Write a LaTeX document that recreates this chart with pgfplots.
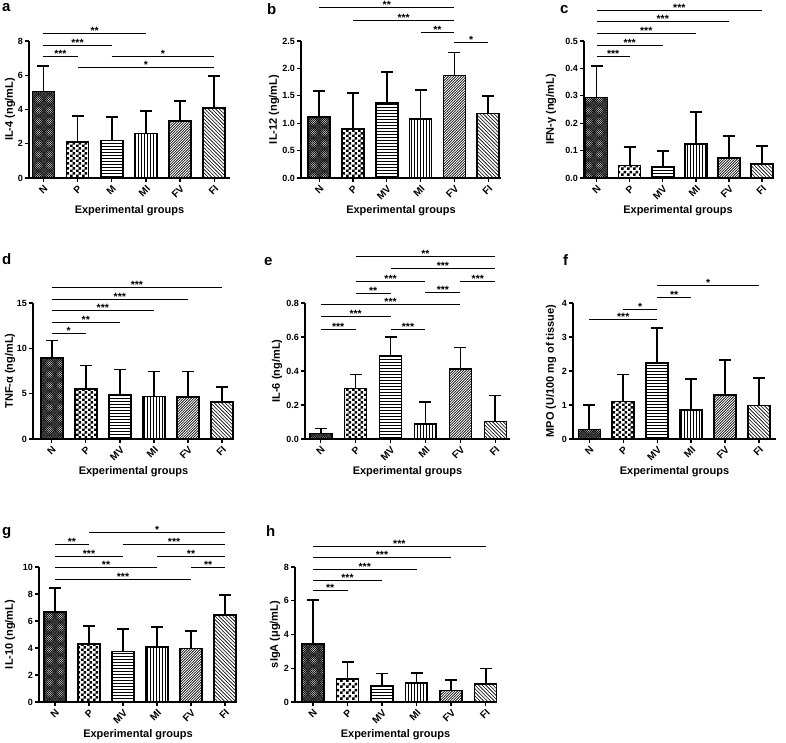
\documentclass[border=0pt]{standalone}
\usepackage{fontspec}
\setmainfont{Liberation Sans}
\usepackage{pgfplots}
\pgfplotsset{compat=1.18}
\usetikzlibrary{patterns}

\pgfdeclarepatternformonly{pN}{\pgfqpoint{-0.5pt}{-0.5pt}}{\pgfqpoint{2.7pt}{2.7pt}}{\pgfqpoint{2.2pt}{2.2pt}}{%
  \pgfsetlinewidth{0.6pt}%
  \pgfpathmoveto{\pgfqpoint{0pt}{0pt}}\pgfpathlineto{\pgfqpoint{2.2pt}{2.2pt}}%
  \pgfpathmoveto{\pgfqpoint{0pt}{2.2pt}}\pgfpathlineto{\pgfqpoint{2.2pt}{0pt}}%
  \pgfusepath{stroke}}
\pgfdeclarepatternformonly{pP}{\pgfpointorigin}{\pgfqpoint{5.4pt}{5.4pt}}{\pgfqpoint{5.4pt}{5.4pt}}{%
  \pgfpathrectangle{\pgfpointorigin}{\pgfqpoint{2.7pt}{2.7pt}}%
  \pgfpathrectangle{\pgfqpoint{2.7pt}{2.7pt}}{\pgfqpoint{2.7pt}{2.7pt}}%
  \pgfusepath{fill}}
\pgfdeclarepatternformonly{pH}{\pgfqpoint{-1pt}{-1pt}}{\pgfqpoint{11pt}{1pt}}{\pgfqpoint{10pt}{3pt}}{%
  \pgfsetlinewidth{0.9pt}\pgfpathmoveto{\pgfqpoint{-1pt}{0pt}}\pgfpathlineto{\pgfqpoint{11pt}{0pt}}\pgfusepath{stroke}}
\pgfdeclarepatternformonly{pV}{\pgfqpoint{-1pt}{-1pt}}{\pgfqpoint{1pt}{11pt}}{\pgfqpoint{3pt}{10pt}}{%
  \pgfsetlinewidth{0.9pt}\pgfpathmoveto{\pgfqpoint{0pt}{-1pt}}\pgfpathlineto{\pgfqpoint{0pt}{11pt}}\pgfusepath{stroke}}
\pgfdeclarepatternformonly{pFV}{\pgfqpoint{-1pt}{-1pt}}{\pgfqpoint{3.6pt}{3.6pt}}{\pgfqpoint{2.6pt}{2.6pt}}{%
  \pgfsetlinewidth{0.6pt}\pgfpathmoveto{\pgfqpoint{-0.1pt}{-0.1pt}}\pgfpathlineto{\pgfqpoint{2.7pt}{2.7pt}}\pgfusepath{stroke}}
\pgfdeclarepatternformonly{pFI}{\pgfqpoint{-1pt}{-1pt}}{\pgfqpoint{4.6pt}{4.6pt}}{\pgfqpoint{3.6pt}{3.6pt}}{%
  \pgfsetlinewidth{0.6pt}\pgfpathmoveto{\pgfqpoint{-0.1pt}{3.7pt}}\pgfpathlineto{\pgfqpoint{3.7pt}{-0.1pt}}\pgfusepath{stroke}}

\tikzset{
  bN/.style={draw=black, line width=1.6pt, pattern=pN},
  bP/.style={draw=black, line width=1.6pt, pattern=pP},
  bH/.style={draw=black, line width=1.6pt, pattern=pH},
  bV/.style={draw=black, line width=1.6pt, pattern=pV},
  bFV/.style={draw=black, line width=1.6pt, pattern=pFV},
  bFI/.style={draw=black, line width=1.6pt, pattern=pFI},
  plabel/.style={anchor=north west, inner sep=0pt, font=\bfseries\fontsize{15}{15}\selectfont},
}

\pgfplotsset{
  panel/.style={
    scale only axis,
    ymin=0,
    axis x line*=bottom, axis y line*=left,
    axis line style={-, line width=1.7pt},
    tick style={black, line width=1.3pt},
    major tick length=4pt,
    tick align=outside,
    xtick={0,1,2,3,4,5},
    xticklabel style={yshift=-1pt, rotate=45, anchor=north east, font=\bfseries\fontsize{10}{11}\selectfont, inner sep=1pt},
    yticklabel style={font=\bfseries\fontsize{9}{10}\selectfont, inner sep=2pt},
    /pgf/number format/assume math mode=true,
    xlabel={Experimental groups},
    xlabel style={at={(axis description cs:0.5,0)}, anchor=north, yshift=-27pt, inner sep=0pt},
    label style={font=\bfseries\fontsize{11}{13}\selectfont},
    clip=false,
    ybar, bar shift=0pt, bar width=22pt,
    error bars/y dir=plus, error bars/y explicit,
    error bars/error mark=|,
    error bars/error bar style={line width=1.7pt, black, solid},
    error bars/error mark options={line width=1.7pt, black, mark size=6pt},
  },
  dec1/.style={yticklabel style={/pgf/number format/fixed, /pgf/number format/fixed zerofill, /pgf/number format/precision=1}},
  yl/.style={ylabel style={at={([xshift=-#1]axis description cs:0,0.5)}, anchor=center, inner sep=0pt}},
}

\newcommand{\sig}[4]{\draw[line width=1pt] (axis cs:#1,#3) -- node[anchor=base, inner sep=0pt, yshift=-1pt, font=\bfseries\fontsize{10.5}{10.5}\selectfont]{#4} (axis cs:#2,#3);}

\begin{document}
\begin{tikzpicture}
\useasboundingbox (0,0) rectangle (786pt,743pt);

% ---------------- a: IL-4
\node[plabel] at (2pt,740pt) {a};
\begin{axis}[panel, yl=19pt, at={(29pt,565pt)}, anchor=south west, width=201pt, height=137pt,
  xmin=-0.42, xmax=5.46, ymax=8, ytick={0,2,4,6,8},
  xticklabels={N,P,M,MI,FV,FI}, ylabel={IL-4 (ng/mL)}]
\addplot[bN]  coordinates {(0,5.05) +- (0,1.49)};
\addplot[bP]  coordinates {(1,2.10) +- (0,1.53)};
\addplot[bH]  coordinates {(2,2.20) +- (0,1.35)};
\addplot[bV]  coordinates {(3,2.60) +- (0,1.32)};
\addplot[bFV] coordinates {(4,3.34) +- (0,1.15)};
\addplot[bFI] coordinates {(5,4.07) +- (0,1.90)};
\sig{0}{3}{8.41}{**}
\sig{0}{2}{7.71}{***}
\sig{0}{1}{7.08}{***}
\sig{2}{5}{7.08}{*}
\sig{1}{5}{6.44}{*}
\end{axis}

% ---------------- b: IL-12
\node[plabel] at (267pt,740pt) {b};
\begin{axis}[panel, dec1, yl=27pt, at={(301pt,565pt)}, anchor=south west, width=200pt, height=137pt,
  xmin=-0.54, xmax=5.38, ymax=2.5, ytick={0,0.5,1,1.5,2,2.5},
  xticklabels={N,P,MV,MI,FV,FI}, ylabel={IL-12 (ng/mL)}]
\addplot[bN]  coordinates {(0,1.11) +- (0,0.475)};
\addplot[bP]  coordinates {(1,0.89) +- (0,0.665)};
\addplot[bH]  coordinates {(2,1.37) +- (0,0.56)};
\addplot[bV]  coordinates {(3,1.08) +- (0,0.52)};
\addplot[bFV] coordinates {(4,1.87) +- (0,0.42)};
\addplot[bFI] coordinates {(5,1.18) +- (0,0.31)};
\sig{0}{4}{3.11}{**}
\sig{1}{4}{2.88}{***}
\sig{3}{4}{2.66}{**}
\sig{4}{5}{2.48}{*}
\end{axis}

% ---------------- c: IFN-gamma
\node[plabel] at (560pt,738pt) {c};
\begin{axis}[panel, dec1, yl=33pt, at={(584pt,565pt)}, anchor=south west, width=188pt, height=137pt,
  xmin=-0.38, xmax=5.3, ymax=0.5, ytick={0,0.1,0.2,0.3,0.4,0.5},
  xticklabels={N,P,MV,MI,FV,FI}, ylabel={IFN-γ (ng/mL)}]
\addplot[bN]  coordinates {(0,0.294) +- (0,0.116)};
\addplot[bP]  coordinates {(1,0.046) +- (0,0.067)};
\addplot[bH]  coordinates {(2,0.040) +- (0,0.059)};
\addplot[bV]  coordinates {(3,0.124) +- (0,0.117)};
\addplot[bFV] coordinates {(4,0.072) +- (0,0.080)};
\addplot[bFI] coordinates {(5,0.050) +- (0,0.067)};
\sig{0}{5}{0.613}{***}
\sig{0}{4}{0.571}{***}
\sig{0}{3}{0.528}{***}
\sig{0}{2}{0.485}{***}
\sig{0}{1}{0.443}{***}
\end{axis}

% ---------------- d: TNF-alpha
\node[plabel] at (2pt,490pt) {d};
\begin{axis}[panel, yl=23pt, at={(33pt,304pt)}, anchor=south west, width=201pt, height=136pt,
  xmin=-0.55, xmax=5.35, ymax=15, ytick={0,5,10,15},
  xticklabels={N,P,MV,MI,FV,FI}, ylabel={TNF-α (ng/mL)}]
\addplot[bN]  coordinates {(0,8.93) +- (0,1.92)};
\addplot[bP]  coordinates {(1,5.51) +- (0,2.61)};
\addplot[bH]  coordinates {(2,4.82) +- (0,2.83)};
\addplot[bV]  coordinates {(3,4.70) +- (0,2.73)};
\addplot[bFV] coordinates {(4,4.63) +- (0,2.83)};
\addplot[bFI] coordinates {(5,4.08) +- (0,1.69)};
\sig{0}{5}{16.73}{***}
\sig{0}{4}{15.44}{***}
\sig{0}{3}{14.15}{***}
\sig{0}{2}{12.9}{**}
\sig{0}{1}{11.62}{*}
\end{axis}

% ---------------- e: IL-6
\node[plabel] at (264pt,486pt) {e};
\begin{axis}[panel, dec1, yl=28pt, at={(305pt,304pt)}, anchor=south west, width=205pt, height=136pt,
  xmin=-0.45, xmax=5.42, ymax=0.8, ytick={0,0.2,0.4,0.6,0.8},
  xticklabels={N,P,MV,MI,FV,FI}, ylabel={IL-6 (ng/mL)}]
\addplot[bN]  coordinates {(0,0.033) +- (0,0.028)};
\addplot[bP]  coordinates {(1,0.297) +- (0,0.083)};
\addplot[bH]  coordinates {(2,0.491) +- (0,0.108)};
\addplot[bV]  coordinates {(3,0.088) +- (0,0.129)};
\addplot[bFV] coordinates {(4,0.411) +- (0,0.127)};
\addplot[bFI] coordinates {(5,0.104) +- (0,0.152)};
\sig{1}{5}{1.074}{**}
\sig{2}{5}{1.0}{***}
\sig{1}{3}{0.926}{***}
\sig{4}{5}{0.928}{***}
\sig{1}{2}{0.857}{**}
\sig{3}{4}{0.859}{***}
\sig{0}{4}{0.79}{***}
\sig{0}{2}{0.718}{***}
\sig{0}{1}{0.646}{***}
\sig{2}{3}{0.646}{***}
\end{axis}

% ---------------- f: MPO
\node[plabel] at (563pt,489pt) {f};
\begin{axis}[panel, yl=22pt, at={(573pt,304pt)}, anchor=south west, width=203pt, height=136pt,
  xmin=-0.48, xmax=5.5, ymax=4, ytick={0,1,2,3,4},
  xticklabels={N,P,MV,MI,FV,FI}, ylabel={MPO (U/100 mg of tissue)}]
\addplot[bN]  coordinates {(0,0.28) +- (0,0.72)};
\addplot[bP]  coordinates {(1,1.10) +- (0,0.80)};
\addplot[bH]  coordinates {(2,2.24) +- (0,1.02)};
\addplot[bV]  coordinates {(3,0.86) +- (0,0.90)};
\addplot[bFV] coordinates {(4,1.30) +- (0,1.03)};
\addplot[bFI] coordinates {(5,0.98) +- (0,0.82)};
\sig{2}{5}{4.5}{*}
\sig{2}{3}{4.15}{**}
\sig{1}{2}{3.82}{*}
\sig{0}{2}{3.51}{***}
\end{axis}

% ---------------- g: IL-10
\node[plabel] at (2pt,216pt) {g};
\begin{axis}[panel, yl=29pt, at={(39pt,41pt)}, anchor=south west, width=198pt, height=135pt,
  xmin=-0.47, xmax=5.35, ymax=10, ytick={0,2,4,6,8,10},
  xticklabels={N,P,MV,MI,FV,FI}, ylabel={IL-10 (ng/mL)}]
\addplot[bN]  coordinates {(0,6.66) +- (0,1.77)};
\addplot[bP]  coordinates {(1,4.30) +- (0,1.35)};
\addplot[bH]  coordinates {(2,3.73) +- (0,1.70)};
\addplot[bV]  coordinates {(3,4.08) +- (0,1.45)};
\addplot[bFV] coordinates {(4,3.96) +- (0,1.32)};
\addplot[bFI] coordinates {(5,6.44) +- (0,1.47)};
\sig{1}{5}{12.53}{*}
\sig{0}{1}{11.67}{**}
\sig{2}{5}{11.67}{***}
\sig{0}{2}{10.81}{***}
\sig{3}{5}{10.81}{**}
\sig{0}{3}{9.95}{**}
\sig{4}{5}{9.95}{**}
\sig{0}{4}{9.09}{***}
\end{axis}

% ---------------- h: sIgA
\node[plabel] at (266pt,218pt) {h};
\begin{axis}[panel, yl=20pt, at={(295pt,41pt)}, anchor=south west, width=201pt, height=135pt,
  xmin=-0.52, xmax=5.3, ymax=8, ytick={0,2,4,6,8},
  xticklabels={N,P,MV,MI,FV,FI}, ylabel={sIgA (μg/mL)}]
\addplot[bN]  coordinates {(0,3.44) +- (0,2.59)};
\addplot[bP]  coordinates {(1,1.38) +- (0,0.98)};
\addplot[bH]  coordinates {(2,0.96) +- (0,0.73)};
\addplot[bV]  coordinates {(3,1.14) +- (0,0.59)};
\addplot[bFV] coordinates {(4,0.69) +- (0,0.61)};
\addplot[bFI] coordinates {(5,1.08) +- (0,0.90)};
\sig{0}{5}{9.23}{***}
\sig{0}{4}{8.55}{***}
\sig{0}{3}{7.88}{***}
\sig{0}{2}{7.21}{***}
\sig{0}{1}{6.58}{**}
\end{axis}
\end{tikzpicture}
\end{document}
